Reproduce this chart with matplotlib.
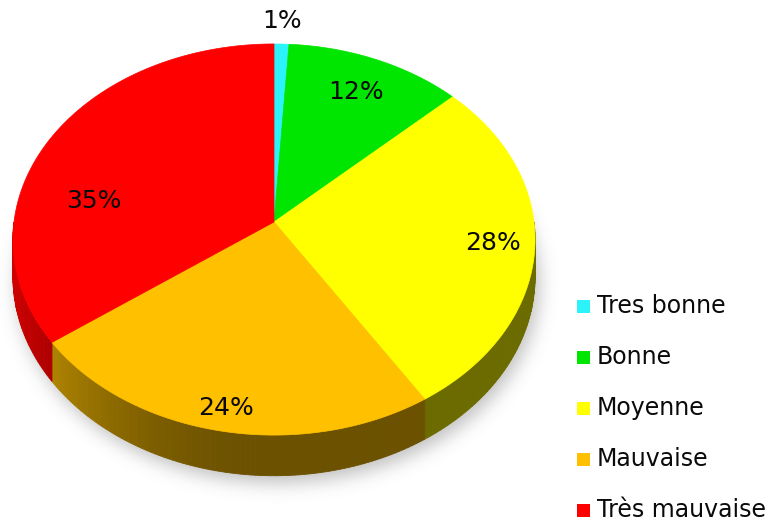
import numpy as np
import matplotlib
matplotlib.use("Agg")
from matplotlib import pyplot as plt
from matplotlib.patches import Polygon, Rectangle
from matplotlib.path import Path
from matplotlib.colors import to_rgb

labels = ["Tres bonne", "Bonne", "Moyenne", "Mauvaise", "Très mauvaise"]
values = [1, 12, 28, 24, 35]
colors = ["#2cf2fa", "#00e600", "#ffff00", "#ffc000", "#ff0000"]

# where each percentage sits: radius (fraction of pie) and angular nudge in degrees
label_r = [1.14, 0.79, 0.84, 0.90, 0.71]
label_dtheta = [0, 0, 0, 0, -18]

# pie geometry, in pixels
CX, CY = 274, 222
A, B = 260, 194
K = 0.0896      # perspective strength
DEPTH = 37
W, H = 773, 522


def project(theta, r=1.0):
    # theta measured clockwise from 12 o'clock
    u = r * np.sin(theta)
    v = r * np.cos(theta)
    w = 1 + K * v
    return CX + A * u / w, CY - B * v / w


def side_depth(theta):
    return DEPTH / (1 + K * np.cos(theta))


def shade(theta):
    u = np.sin(theta)
    return 0.42 + 0.40 * max(0.0, -u) ** 2


def blur(img, sigma):
    r = int(3 * sigma)
    x = np.arange(-r, r + 1)
    k = np.exp(-x ** 2 / (2 * sigma ** 2))
    k /= k.sum()
    img = np.apply_along_axis(lambda m: np.convolve(m, k, mode="same"), 0, img)
    img = np.apply_along_axis(lambda m: np.convolve(m, k, mode="same"), 1, img)
    return img


fig = plt.figure(figsize=(W / 100, H / 100), dpi=100)
ax = fig.add_axes([0, 0, 1, 1])
ax.set_xlim(0, W)
ax.set_ylim(H, 0)
ax.axis("off")

total = float(sum(values))
bounds = 2 * np.pi * np.concatenate([[0], np.cumsum(values)]) / total

# soft shadow under the pie
ts = np.linspace(0, 2 * np.pi, 400)
sx, sy = project(ts)
sy = sy + side_depth(ts) + 7
sx = sx + 4
shadow_path = Path(np.column_stack([sx, sy]))
gx, gy = np.meshgrid(np.arange(W) + 0.5, np.arange(H) + 0.5)
mask = shadow_path.contains_points(np.column_stack([gx.ravel(), gy.ravel()]))
mask = blur(mask.reshape(H, W).astype(float), 9)
rgba = np.zeros((H, W, 4))
rgba[..., :3] = 0.45
rgba[..., 3] = mask * 0.45
ax.imshow(rgba, extent=[0, W, H, 0], zorder=0, interpolation="bilinear")

# side walls on the front half
for i, col in enumerate(colors):
    t0, t1 = bounds[i], bounds[i + 1]
    lo, hi = max(t0, np.pi / 2), min(t1, 3 * np.pi / 2)
    if hi <= lo:
        continue
    base = np.array(to_rgb(col))
    n = max(2, int(np.degrees(hi - lo)))
    steps = np.linspace(lo, hi, n + 1)
    for a0, a1 in zip(steps[:-1], steps[1:]):
        x0, y0 = project(a0)
        x1, y1 = project(a1)
        c = np.clip(base * shade((a0 + a1) / 2), 0, 1)
        quad = [(x0, y0), (x1, y1), (x1, y1 + side_depth(a1)), (x0, y0 + side_depth(a0))]
        ax.add_patch(Polygon(quad, closed=True, facecolor=c, edgecolor=c, lw=0.6, zorder=2))

# top faces
for i, col in enumerate(colors):
    t0, t1 = bounds[i], bounds[i + 1]
    arc = np.linspace(t0, t1, max(3, int(np.degrees(t1 - t0)) + 2))
    ax_, ay_ = project(arc)
    pts = [(CX, CY)] + list(zip(ax_, ay_))
    ax.add_patch(Polygon(pts, closed=True, facecolor=col, edgecolor=col, lw=0.5, zorder=3))

# percentage labels
for i, v in enumerate(values):
    mid = (bounds[i] + bounds[i + 1]) / 2 + np.radians(label_dtheta[i])
    lx, ly = project(mid, label_r[i])
    ax.text(lx, ly, f"{round(100 * v / total)}%", ha="center", va="center",
            fontsize=18, color="#0a0a0a", zorder=5)

# legend
for i, (lab, col) in enumerate(zip(labels, colors)):
    yy = 306 + i * 51
    ax.add_patch(Rectangle((577, yy - 6.5), 13, 13, facecolor=col, edgecolor="none", zorder=5))
    ax.text(597, yy, lab, ha="left", va="center", fontsize=17, color="#0a0a0a", zorder=5)

fig.savefig("out.png", dpi=100)
